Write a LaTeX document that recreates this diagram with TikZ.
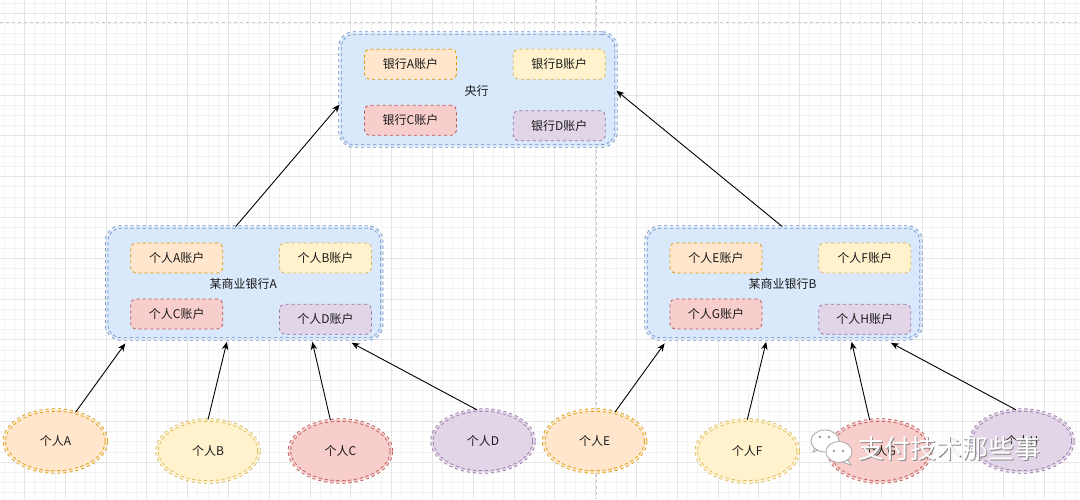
\documentclass[tikz,border=0pt]{standalone}
\usepackage{fontspec}
\setmainfont{Noto Sans CJK SC}
\usetikzlibrary{shapes.geometric,arrows.meta,calc}
\definecolor{bluef}{HTML}{DAE8FC}\definecolor{blued}{HTML}{6C8EBF}
\definecolor{orangef}{HTML}{FFE6CC}\definecolor{oranged}{HTML}{D79B00}
\definecolor{yellowf}{HTML}{FFF2CC}\definecolor{yellowd}{HTML}{D6B656}
\definecolor{redf}{HTML}{F8CECC}\definecolor{redd}{HTML}{B85450}
\definecolor{purplef}{HTML}{E1D5E7}\definecolor{purpled}{HTML}{9673A6}
\definecolor{gridminor}{HTML}{F3F3F3}\definecolor{gridmajor}{HTML}{E4E4E4}
\definecolor{sepgray}{HTML}{C8C8C8}
\definecolor{txt}{HTML}{1A1A1A}
\tikzset{
  lbl/.style={font=\fontsize{12}{14}\selectfont, text=txt, inner sep=0pt},
  dashpat/.style={dash pattern=on 3pt off 3pt},
  outerbox/.style={draw=blued, fill=bluef, double=bluef, double distance=1.8pt, line width=0.8pt, dashpat, rounded corners=14pt, minimum width=275pt, minimum height=112pt, inner sep=0pt},
  acct/.style 2 args={draw=#2, fill=#1, line width=0.8pt, dashpat, rounded corners=5pt, minimum width=92pt, minimum height=30pt, inner sep=0pt, lbl},
  person/.style 2 args={ellipse, draw=#2, fill=#1, double=#1, double distance=1.8pt, line width=0.8pt, dashpat, minimum width=102pt, minimum height=62pt, inner sep=0pt, lbl},
  conn/.style={draw=black, line width=0.9pt, -{Stealth[length=8pt,width=6.5pt]}},
}
\begin{document}
\begin{tikzpicture}[x=1pt,y=-1pt]
\useasboundingbox (0,0) rectangle (1080,499);
\fill[white] (0,0) rectangle (1080,499);
% grid
\foreach \i in {0,...,106} {\draw[gridminor, line width=0.7pt] ({3.9+10.2*\i},0) -- ({3.9+10.2*\i},499);}
\foreach \i in {0,...,49} {\draw[gridminor, line width=0.7pt] (0,{3.1+10.2*\i}) -- (1080,{3.1+10.2*\i});}
\foreach \i in {0,...,26} {\draw[gridmajor, line width=0.8pt] ({24.3+40.8*\i},0) -- ({24.3+40.8*\i},499);}
\foreach \i in {0,...,12} {\draw[gridmajor, line width=0.8pt] (0,{13.3+40.8*\i}) -- (1080,{13.3+40.8*\i});}
% separators
\coordinate (hsL) at (0,22.7); \coordinate (hsR) at (1080,22.7);
\coordinate (vsT) at (596.7,0); \coordinate (vsB) at (596.7,499);
\draw[sepgray, line width=1.5pt, dashpat] (hsL) -- (hsR);
\draw[sepgray, line width=1.5pt, dashpat] (vsT) -- (vsB);

% central bank
\node[outerbox, minimum width=276pt, minimum height=113pt] (cb) at (478,89.5) {};
\node[lbl] (cbl) at (476.7,91) {央行};
\node[acct={orangef}{oranged}] (cA) at (410.5,64.2) {银行A账户};
\node[acct={yellowf}{yellowd}] (cB) at (559.3,64.2) {银行B账户};
\node[acct={redf}{redd}] (cC) at (410.5,120.3) {银行C账户};
\node[acct={purplef}{purpled}] (cD) at (559.3,125.7) {银行D账户};

% bank A
\node[outerbox] (ba) at (244.2,283) {};
\node[lbl] (bal) at (243.3,284) {某商业银行A};
\node[acct={orangef}{oranged}] (aA) at (176.7,258) {个人A账户};
\node[acct={yellowf}{yellowd}] (aB) at (325.5,258) {个人B账户};
\node[acct={redf}{redd}] (aC) at (176.7,314) {个人C账户};
\node[acct={purplef}{purpled}] (aD) at (325.5,319.3) {个人D账户};

% bank B
\node[outerbox] (bb) at (783.5,283) {};
\node[lbl] (bbl) at (782.6,284) {某商业银行B};
\node[acct={orangef}{oranged}] (bE) at (716,258) {个人E账户};
\node[acct={yellowf}{yellowd}] (bF) at (864.8,258) {个人F账户};
\node[acct={redf}{redd}] (bG) at (716,314) {个人G账户};
\node[acct={purplef}{purpled}] (bH) at (864.8,319.3) {个人H账户};

% persons
\node[person={orangef}{oranged}] (pA) at (55.4,441) {个人A};
\node[person={yellowf}{yellowd}] (pB) at (208,451) {个人B};
\node[person={redf}{redd}] (pC) at (340.4,451) {个人C};
\node[person={purplef}{purpled}] (pD) at (483,441) {个人D};
\node[person={orangef}{oranged}] (pE) at (594.7,441) {个人E};
\node[person={yellowf}{yellowd}] (pF) at (747.3,451) {个人F};
\node[person={redf}{redd}] (pG) at (879.7,451) {个人G};
\node[person={purplef}{purpled}] (pH) at (1022,441) {个人H};

% connectors
\draw[conn] (pA.55) -- ($(ba.south west)+(19,4)$);
\draw[conn] (pB.90) -- ($(ba.south west)+(120.6,2.4)$);
\draw[conn] (pC.108) -- ($(ba.south west)+(206,2.4)$);
\draw[conn] (pD.101) -- ($(ba.south west)+(245.3,3.4)$);
\draw[conn] (pE.55) -- ($(bb.south west)+(19,4)$);
\draw[conn] (pF.90) -- ($(bb.south west)+(120.6,2.4)$);
\draw[conn] (pG.108) -- ($(bb.south west)+(206,2.4)$);
\draw[conn] (pH.101) -- ($(bb.south west)+(245.3,3.4)$);
\draw[conn] ($(ba.north west)+(129.3,0)$) -- ($(cb.north west)+(0,72)$);
\draw[conn] ($(bb.north west)+(136.7,0)$) -- ($(cb.north east)+(0,58)$);

% watermark
\begin{scope}[draw=gray!70, line width=0.8pt, fill=white]
  \filldraw (816,446) -- (813,452) -- (821,449) -- cycle;
  \filldraw (825,441) ellipse [x radius=14, y radius=11];
  \fill[gray!80] (820,437) circle (1.3); \fill[gray!80] (829,437) circle (1.3);
  \filldraw (848,460) -- (851,465) -- (842,462) -- cycle;
  \filldraw (839,452) ellipse [x radius=13, y radius=10.5];
  \fill[gray!80] (834,451) circle (1.3); \fill[gray!80] (843,451) circle (1.3);
\end{scope}
\node[inner sep=0pt, text=gray!90, font=\fontsize{26}{28}\selectfont, anchor=west] (wms) at (858.8,449.8) {支付技术那些事};
\node[inner sep=0pt, text=white, font=\fontsize{26}{28}\selectfont, anchor=west] (wm) at (858,449) {支付技术那些事};
\end{tikzpicture}
\end{document}
